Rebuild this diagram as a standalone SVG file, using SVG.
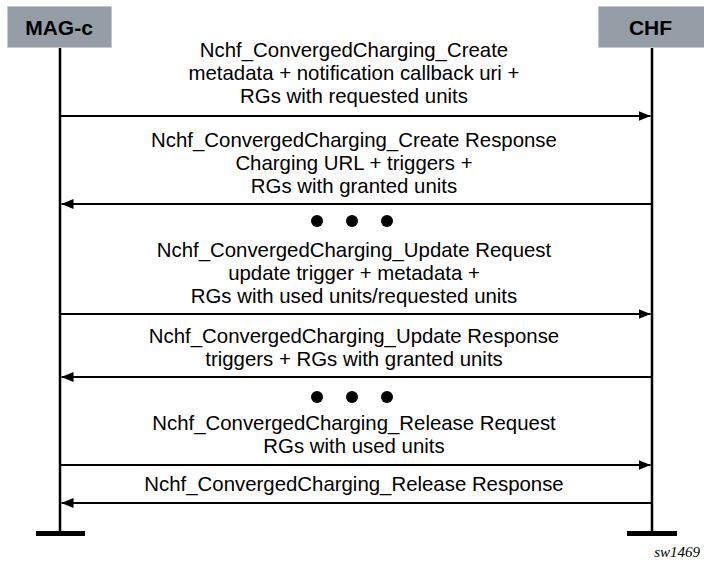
<svg xmlns="http://www.w3.org/2000/svg" width="704" height="563" viewBox="0 0 704 563">
<style>
.hdr{fill:#959ea7;stroke:#c4c9ce;stroke-width:1}
.hdrt{font-family:"Liberation Sans",Arial,sans-serif;font-weight:bold;font-size:21px;fill:#000;text-anchor:middle}
.life{stroke:#000;stroke-width:2.5;fill:none}
.bar{stroke:#000;stroke-width:5;fill:none}
.msg{stroke:#000;stroke-width:2;fill:none}
.lbl{font-family:"Liberation Sans",Arial,sans-serif;font-size:20.4px;fill:#000;text-anchor:middle}
.dot{fill:#000}
</style>
<defs>
<marker id="ah" viewBox="0 0 12 10" refX="12" refY="5" markerWidth="12" markerHeight="10" markerUnits="userSpaceOnUse" orient="auto">
<path d="M0,0 L12,5 L0,10 Z" fill="#000"/>
</marker>
</defs>
<rect width="704" height="563" fill="#fff"/>
<g id="mag-c">
<rect class="hdr" x="7.5" y="6.5" width="104" height="41"/>
<text class="hdrt" x="59" y="35">MAG-c</text>
<line class="life" x1="60" y1="48" x2="60" y2="532"/>
<line class="bar" x1="36" y1="533.5" x2="85" y2="533.5"/>
</g>
<g id="chf">
<rect class="hdr" x="598.5" y="6.5" width="106" height="41"/>
<text class="hdrt" x="650.5" y="35">CHF</text>
<line class="life" x1="652" y1="48" x2="652" y2="532"/>
<line class="bar" x1="627" y1="533.5" x2="677" y2="533.5"/>
</g>
<g id="connectors">
<line class="msg" x1="61" y1="116" x2="650.5" y2="116" marker-end="url(#ah)"/>
<line class="msg" x1="651" y1="204" x2="61.5" y2="204" marker-end="url(#ah)"/>
<line class="msg" x1="61" y1="314" x2="650.5" y2="314" marker-end="url(#ah)"/>
<line class="msg" x1="651" y1="377" x2="61.5" y2="377" marker-end="url(#ah)"/>
<line class="msg" x1="61" y1="465" x2="650.5" y2="465" marker-end="url(#ah)"/>
<line class="msg" x1="651" y1="503" x2="61.5" y2="503" marker-end="url(#ah)"/>
</g>
<g id="labels">
<text class="lbl" x="354" y="57">Nchf_ConvergedCharging_Create</text>
<text class="lbl" x="354" y="80">metadata + notification callback uri +</text>
<text class="lbl" x="354" y="103">RGs with requested units</text>
<text class="lbl" x="354" y="147">Nchf_ConvergedCharging_Create Response</text>
<text class="lbl" x="354" y="170">Charging URL + triggers +</text>
<text class="lbl" x="354" y="193">RGs with granted units</text>
<text class="lbl" x="354" y="257">Nchf_ConvergedCharging_Update Request</text>
<text class="lbl" x="354" y="280">update trigger + metadata +</text>
<text class="lbl" x="354" y="303">RGs with used units/requested units</text>
<text class="lbl" x="354" y="343">Nchf_ConvergedCharging_Update Response</text>
<text class="lbl" x="354" y="366">triggers + RGs with granted units</text>
<text class="lbl" x="354" y="430">Nchf_ConvergedCharging_Release Request</text>
<text class="lbl" x="354" y="453">RGs with used units</text>
<text class="lbl" x="354" y="491">Nchf_ConvergedCharging_Release Response</text>
</g>
<g id="ellipsis1">
<circle class="dot" cx="317" cy="221" r="6"/>
<circle class="dot" cx="352" cy="221" r="6"/>
<circle class="dot" cx="387" cy="221" r="6"/>
</g>
<g id="ellipsis2">
<circle class="dot" cx="317" cy="397" r="6"/>
<circle class="dot" cx="352" cy="397" r="6"/>
<circle class="dot" cx="387" cy="397" r="6"/>
</g>
<text x="700" y="557" font-family="'Liberation Serif','Times New Roman',serif" font-style="italic" font-size="15" text-anchor="end" fill="#000">sw1469</text>
</svg>
